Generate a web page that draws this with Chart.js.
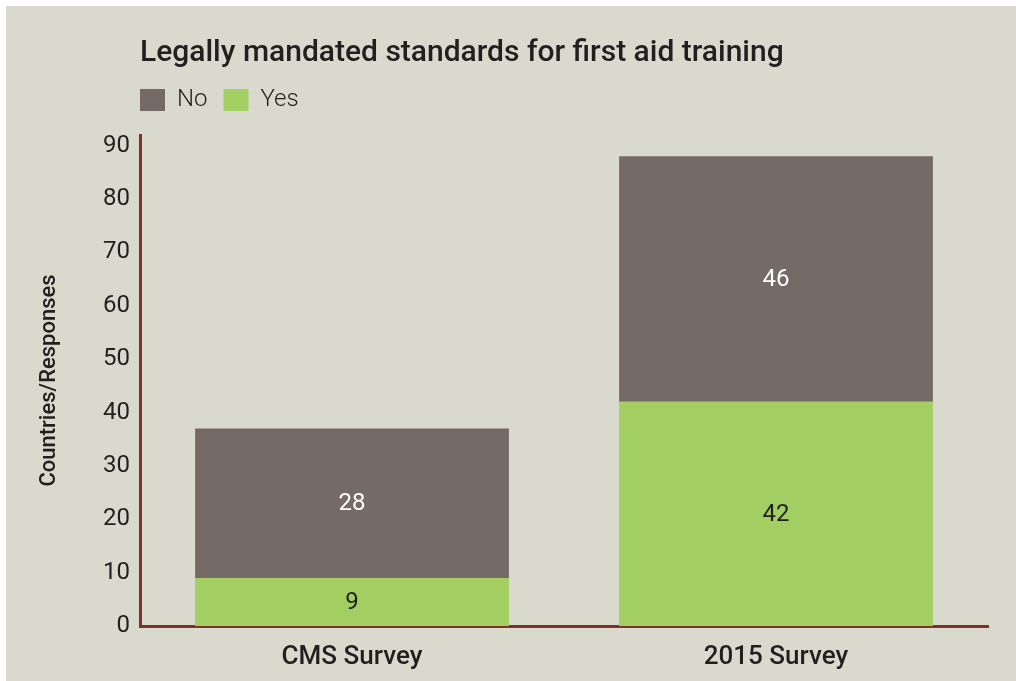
<!DOCTYPE html>
<html>
<head>
<meta charset="utf-8">
<script src="https://cdn.jsdelivr.net/npm/chart.js@4/dist/chart.umd.min.js"></script>
<style>
  body { margin: 0; background: #ffffff; }
  #myChart { display: block; margin: 6px 0 0 6px; background: #d9d9cd; }
</style>
</head>
<body>
<canvas id="myChart" width="1010" height="675"></canvas>
<script>
const categories = ['CMS Survey', '2015 Survey'];
const yesValues = [9, 42];
const noValues = [28, 46];
const seriesNames = ['Yes', 'No'];
const yTicks = [0, 10, 20, 30, 40, 50, 60, 70, 80, 90];

const textColor = '#231f20';
const axisColor = '#7a3428';
const fontFamily = 'Roboto, "Liberation Sans", Arial, sans-serif';

// writes the value in the middle of every bar segment
const segmentLabels = {
    id: 'segmentLabels',
    afterDatasetsDraw(chart) {
        const ctx = chart.ctx;
        ctx.save();
        ctx.font = '400 24px ' + fontFamily;
        ctx.textAlign = 'center';
        ctx.textBaseline = 'middle';
        chart.data.datasets.forEach((ds, i) => {
            const meta = chart.getDatasetMeta(i);
            meta.data.forEach((bar, j) => {
                const p = bar.getProps(['x', 'y', 'base'], true);
                ctx.fillStyle = ds.labelColor;
                ctx.fillText(ds.data[j], p.x, (p.y + p.base) / 2 + 1);
            });
        });
        ctx.restore();
    }
};

// legend sits flush with the plot's left edge
const legendShift = {
    id: 'legendShift',
    afterLayout(chart) {
        const pad = chart.options.plugins.legend.labels.padding;
        chart.legend.left -= pad;
        chart.legend.right -= pad;
    }
};

(function() {
    var ctx = document.querySelector('#myChart');
    new Chart(ctx, {
        type: 'bar',
        data: {
            labels: categories,
            datasets: [{
                label: seriesNames[0],
                data: yesValues,
                backgroundColor: '#a3ce62',
                labelColor: textColor
            }, {
                label: seriesNames[1],
                data: noValues,
                backgroundColor: '#766a66',
                labelColor: '#ffffff'
            }]
        },
        options: {
            responsive: false,
            animation: false,
            barPercentage: 0.74,
            categoryPercentage: 1,
            layout: {
                padding: { top: 32, left: 0, right: 28, bottom: 0 }
            },
            plugins: {
                title: {
                    display: true,
                    text: 'Legally mandated standards for first aid training',
                    align: 'start',
                    fullSize: false,
                    color: textColor,
                    font: { family: fontFamily, size: 30, weight: 500, lineHeight: 1 },
                    padding: { top: 0, bottom: 4 }
                },
                // empty line between legend and plot, for spacing only
                subtitle: {
                    display: true,
                    text: '',
                    weight: 500,
                    fullSize: false,
                    font: { size: 13, lineHeight: 1 },
                    padding: 0
                },
                legend: {
                    align: 'start',
                    fullSize: false,
                    labels: {
                        boxWidth: 25,
                        boxHeight: 22,
                        padding: 16,
                        color: textColor,
                        font: { family: fontFamily, size: 24, weight: 300 },
                        sort: (a, b) => b.datasetIndex - a.datasetIndex
                    }
                },
                tooltip: { enabled: false }
            },
            scales: {
                x: {
                    stacked: true,
                    afterFit(scale) { scale.height = 55; },
                    grid: { display: false, drawTicks: false },
                    border: { display: true, color: axisColor, width: 3 },
                    ticks: {
                        color: textColor,
                        padding: 16,
                        font: { family: fontFamily, size: 26, weight: 500 }
                    }
                },
                y: {
                    stacked: true,
                    min: 0,
                    max: 92,
                    afterBuildTicks(scale) {
                        scale.ticks = yTicks.map(v => ({ value: v }));
                    },
                    afterFit(scale) { scale.width = 134; },
                    grid: { display: false, drawTicks: false },
                    border: { display: true, color: axisColor, width: 3 },
                    ticks: {
                        color: textColor,
                        padding: 10,
                        font: { family: fontFamily, size: 24, weight: 400 }
                    },
                    title: {
                        display: true,
                        text: 'Countries/Responses',
                        color: textColor,
                        font: { family: fontFamily, size: 22, weight: 500 },
                        padding: { top: 30, bottom: 0 }
                    }
                }
            }
        },
        plugins: [segmentLabels, legendShift]
    });
})();
</script>
</body>
</html>
